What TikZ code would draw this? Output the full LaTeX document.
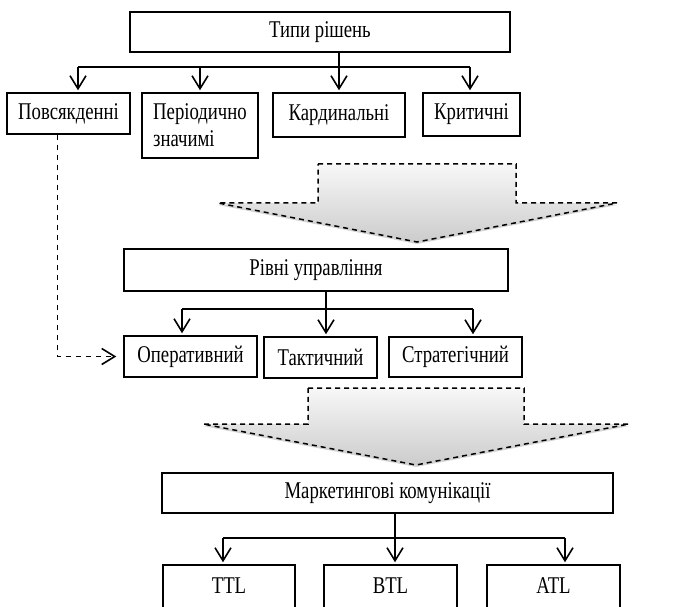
\documentclass[tikz,border=0pt]{standalone}
\usepackage{fontspec}
\setmainfont{Liberation Serif}[FakeStretch=0.78]
\usetikzlibrary{arrows.meta,shadows}

\begin{document}
\begin{tikzpicture}[x=1pt, y=-1pt,
      font=\fontsize{24}{27}\selectfont,
      head/.style={draw, line width=2.4pt, inner sep=0pt},
      item/.style={draw, line width=1.5pt, inner sep=0pt},
      link/.style={line width=1.6pt},
      arr/.style={line width=1.6pt, -{Straight Barb[length=13pt, width=16pt]}, shorten >=2pt},
      bigarrow/.style={dash pattern=on 5pt off 4pt, line width=1.5pt,
        top color=gray!6, bottom color=gray!40,
        drop shadow={shadow xshift=0pt, shadow yshift=-2pt, opacity=0.35}}]
      \clip (0,0) rectangle (678,607);
      \node[head, minimum width=380pt, minimum height=40pt] (types) at (320,32) {Типи рішень};
      \node[item, minimum width=123pt, minimum height=41pt] (daily) at (68.5,113.5) {Повсякденні};
      \node[item, minimum width=116pt, minimum height=65pt, align=left] (periodic) at (200,125.5) {Періодично\\значимі};
      \node[item, minimum width=132pt, minimum height=44pt] (cardinal) at (339,115) {Кардинальні};
      \node[item, minimum width=97pt, minimum height=43pt] (critical) at (471.5,114.5) {Критичні};
      \draw[link] (types.south -| cardinal.north) -- ++(0,14) coordinate (fork1);
      \draw[link] ([xshift=9.5pt]daily.north |- fork1) -- ([xshift=-1.5pt]critical.north |- fork1);
      \foreach \n/\dx in {daily/9.5, periodic/0, cardinal/0, critical/-1.5}
        \draw[arr] ([xshift=\dx pt]\n.north |- fork1) -- ([xshift=\dx pt]\n.north);
      \draw[bigarrow] (318,164) -- (516,164) -- (516,203) -- (617,203) -- (417,242)
        -- (218,203) -- (318,203) -- cycle;

      \node[head, minimum width=384pt, minimum height=42pt] (levels) at (316,270) {Рівні управління};
      \node[item, minimum width=133pt, minimum height=41pt] (oper) at (190.5,356.5) {Оперативний};
      \node[item, minimum width=113pt, minimum height=41pt] (tact) at (320.5,357.5) {Тактичний};
      \node[item, minimum width=133pt, minimum height=40pt] (strat) at (455.5,357) {Стратегічний};
      \draw[link] ([xshift=5.5pt]tact.north |- levels.south) -- ++(0,17) coordinate (fork2);
      \draw[link] ([xshift=-8.5pt]oper.north |- fork2) -- ([xshift=17.5pt]strat.north |- fork2);
      \foreach \n/\dx in {oper/-8.5, tact/5.5, strat/17.5}
        \draw[arr] ([xshift=\dx pt]\n.north |- fork2) -- ([xshift=\dx pt]\n.north);
      \draw[arr, dash pattern=on 5pt off 5pt, shorten >=7pt] ([xshift=-11pt]daily.south) |- (oper.west);
      \draw[bigarrow] (308,388) -- (524,388) -- (524,424) -- (629,424) -- (416,465)
        -- (203,424) -- (308,424) -- cycle;

      \node[head, minimum width=451pt, minimum height=40pt] (comm) at (387.5,493) {Маркетингові комунікації};
      \foreach \n/\cx/\w in {ttl/229/132, btl/390.5/133, atl/553.5/133}
        \node[item, minimum width=\w pt, minimum height=50pt, text height=16pt, text depth=10pt]
          (\n) at (\cx,590) {\MakeUppercase{\n}};
      \draw[link] ([xshift=4.5pt]btl.north |- comm.south) -- ++(0,24) coordinate (fork3);
      \draw[link] ([xshift=-6pt]ttl.north |- fork3) -- ([xshift=11.5pt]atl.north |- fork3);
      \foreach \n/\dx in {ttl/-6, btl/4.5, atl/11.5}
        \draw[arr] ([xshift=\dx pt]\n.north |- fork3) -- ([xshift=\dx pt]\n.north);
    \end{tikzpicture}
\end{document}
